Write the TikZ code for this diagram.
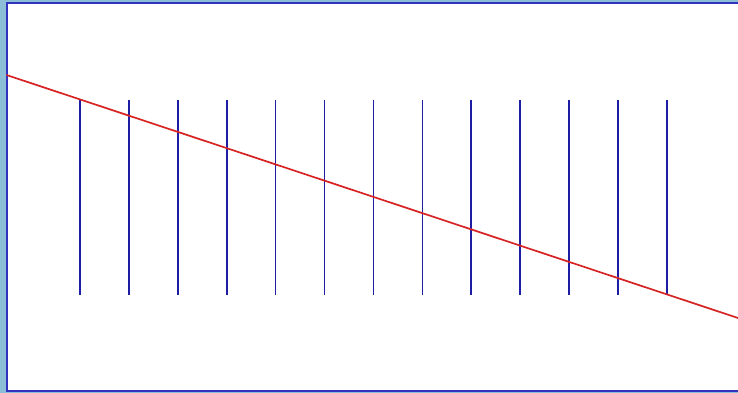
\documentclass[tikz,border=0pt]{standalone}
\usepackage{xcolor}
\definecolor{frameblue}{RGB}{50,50,190}
\definecolor{tickblue}{RGB}{30,30,165}
\definecolor{slantred}{RGB}{215,35,35}
\definecolor{backdrop}{RGB}{140,190,215}

\begin{document}
\begin{tikzpicture}[
x=1pt, y=-1pt,
panel/.style={draw=frameblue, line width=2pt, fill=white},
tick/.style={tickblue, line width=1.6pt},
slant/.style={slantred, line width=1.7pt}
]
\fill[backdrop] (0,0) rectangle (738,393);
\useasboundingbox (0,0) rectangle (738,393);
\draw[panel] (6.5,3.5) rectangle (745,391);
\foreach \i in {0,...,12}
  \draw[tick] ({80+48.9*\i},100) -- ({80+48.9*\i},295);
\coordinate (lstart) at (6.5,75);
\coordinate (lend) at (738,318);
\draw[slant] (lstart) -- (lend);
\end{tikzpicture}
\end{document}
